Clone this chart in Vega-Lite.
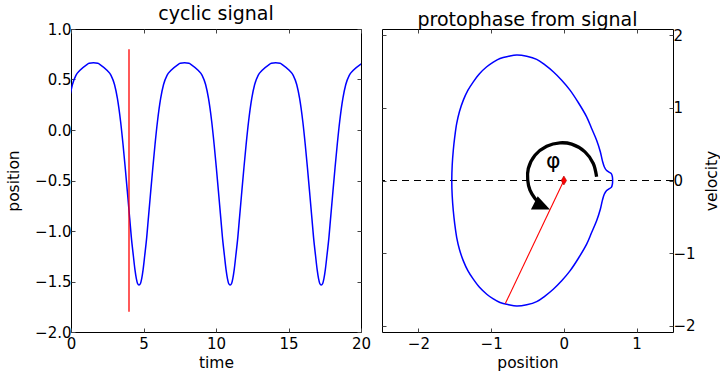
{
  "$schema": "https://vega.github.io/schema/vega-lite/v6.json",
  "background": "white",
  "padding": {"left": 5, "top": 4, "right": 5, "bottom": 5},
  "config": {
    "font": "DejaVu Sans",
    "view": {"stroke": "#000", "strokeWidth": 1},
    "axis": {
      "domain": false,
      "grid": false,
      "tickSize": -4,
      "tickColor": "#444",
      "tickWidth": 1,
      "labelFont": "DejaVu Sans",
      "labelFontSize": 15,
      "labelColor": "#000",
      "labelPadding": 4,
      "labelFlush": false,
      "labelOverlap": false,
      "labelBound": false,
      "titleFont": "DejaVu Sans",
      "titleFontSize": 15.5,
      "titleFontWeight": "normal",
      "titleColor": "#000",
      "titlePadding": 6
    },
    "axisX": {"labelPadding": 8.5, "titlePadding": 4},
    "title": {"fontSize": 19, "fontWeight": "normal", "font": "DejaVu Sans", "color": "#000", "offset": -2}
  },
  "datasets": {
    "signal": [
      {"t": -0.32, "x": 0.084}, {"t": -0.1, "x": 0.313}, {"t": 0.1, "x": 0.45}, {"t": 0.34, "x": 0.541},
      {"t": 0.6, "x": 0.588}, {"t": 1.05, "x": 0.643}, {"t": 1.25, "x": 0.66}, {"t": 1.55, "x": 0.665},
      {"t": 1.85, "x": 0.66}, {"t": 2.05, "x": 0.643}, {"t": 2.5, "x": 0.588}, {"t": 2.76, "x": 0.541},
      {"t": 3.0, "x": 0.45}, {"t": 3.2, "x": 0.313}, {"t": 3.42, "x": 0.084}, {"t": 3.59, "x": -0.146},
      {"t": 3.74, "x": -0.374}, {"t": 3.91, "x": -0.648}, {"t": 4.05, "x": -0.878}, {"t": 4.16, "x": -1.06},
      {"t": 4.3, "x": -1.245}, {"t": 4.41, "x": -1.382}, {"t": 4.51, "x": -1.473}, {"t": 4.59, "x": -1.52},
      {"t": 4.69, "x": -1.535}, {"t": 4.793, "x": -1.52}, {"t": 4.873, "x": -1.473}, {"t": 4.973, "x": -1.382},
      {"t": 5.083, "x": -1.245}, {"t": 5.223, "x": -1.06}, {"t": 5.333, "x": -0.878}, {"t": 5.473, "x": -0.648},
      {"t": 5.643, "x": -0.374}, {"t": 5.793, "x": -0.146}, {"t": 5.963, "x": 0.084}, {"t": 6.183, "x": 0.313},
      {"t": 6.383, "x": 0.45}, {"t": 6.623, "x": 0.541}, {"t": 6.883, "x": 0.588}, {"t": 7.333, "x": 0.643},
      {"t": 7.533, "x": 0.66}, {"t": 7.833, "x": 0.665}, {"t": 8.133, "x": 0.66}, {"t": 8.333, "x": 0.643},
      {"t": 8.783, "x": 0.588}, {"t": 9.043, "x": 0.541}, {"t": 9.283, "x": 0.45}, {"t": 9.483, "x": 0.313},
      {"t": 9.703, "x": 0.084}, {"t": 9.873, "x": -0.146}, {"t": 10.023, "x": -0.374}, {"t": 10.193, "x": -0.648},
      {"t": 10.333, "x": -0.878}, {"t": 10.443, "x": -1.06}, {"t": 10.583, "x": -1.245}, {"t": 10.693, "x": -1.382},
      {"t": 10.793, "x": -1.473}, {"t": 10.873, "x": -1.52}, {"t": 10.975, "x": -1.535}, {"t": 11.076, "x": -1.52},
      {"t": 11.156, "x": -1.473}, {"t": 11.256, "x": -1.382}, {"t": 11.366, "x": -1.245}, {"t": 11.506, "x": -1.06},
      {"t": 11.616, "x": -0.878}, {"t": 11.756, "x": -0.648}, {"t": 11.926, "x": -0.374}, {"t": 12.076, "x": -0.146},
      {"t": 12.246, "x": 0.084}, {"t": 12.466, "x": 0.313}, {"t": 12.666, "x": 0.45}, {"t": 12.906, "x": 0.541},
      {"t": 13.166, "x": 0.588}, {"t": 13.616, "x": 0.643}, {"t": 13.816, "x": 0.66}, {"t": 14.116, "x": 0.665},
      {"t": 14.416, "x": 0.66}, {"t": 14.616, "x": 0.643}, {"t": 15.066, "x": 0.588}, {"t": 15.326, "x": 0.541},
      {"t": 15.566, "x": 0.45}, {"t": 15.766, "x": 0.313}, {"t": 15.986, "x": 0.084}, {"t": 16.156, "x": -0.146},
      {"t": 16.306, "x": -0.374}, {"t": 16.476, "x": -0.648}, {"t": 16.616, "x": -0.878}, {"t": 16.726, "x": -1.06},
      {"t": 16.866, "x": -1.245}, {"t": 16.976, "x": -1.382}, {"t": 17.076, "x": -1.473}, {"t": 17.156, "x": -1.52},
      {"t": 17.258, "x": -1.535}, {"t": 17.36, "x": -1.52}, {"t": 17.44, "x": -1.473}, {"t": 17.54, "x": -1.382},
      {"t": 17.65, "x": -1.245}, {"t": 17.79, "x": -1.06}, {"t": 17.9, "x": -0.878}, {"t": 18.04, "x": -0.648},
      {"t": 18.21, "x": -0.374}, {"t": 18.36, "x": -0.146}, {"t": 18.53, "x": 0.084}, {"t": 18.75, "x": 0.313},
      {"t": 18.95, "x": 0.45}, {"t": 19.19, "x": 0.541}, {"t": 19.45, "x": 0.588}, {"t": 19.9, "x": 0.643},
      {"t": 20.1, "x": 0.66}, {"t": 20.4, "x": 0.665}
    ],
    "phase": [
      {"o": 1, "x": 0.67, "v": 0}, {"o": 2, "x": 0.667, "v": 0.05}, {"o": 3, "x": 0.652, "v": 0.095},
      {"o": 4, "x": 0.62, "v": 0.115}, {"o": 5, "x": 0.585, "v": 0.14}, {"o": 6, "x": 0.555, "v": 0.19},
      {"o": 7, "x": 0.53, "v": 0.27}, {"o": 8, "x": 0.5, "v": 0.4}, {"o": 9, "x": 0.45, "v": 0.555},
      {"o": 10, "x": 0.38, "v": 0.72}, {"o": 11, "x": 0.313, "v": 0.876}, {"o": 12, "x": 0.2, "v": 1.07},
      {"o": 13, "x": 0.084, "v": 1.244}, {"o": 14, "x": -0.03, "v": 1.38}, {"o": 15, "x": -0.146, "v": 1.496},
      {"o": 16, "x": -0.26, "v": 1.59}, {"o": 17, "x": -0.374, "v": 1.667}, {"o": 18, "x": -0.51, "v": 1.71},
      {"o": 19, "x": -0.648, "v": 1.727}, {"o": 20, "x": -0.76, "v": 1.71}, {"o": 21, "x": -0.878, "v": 1.68},
      {"o": 22, "x": -0.97, "v": 1.63}, {"o": 23, "x": -1.06, "v": 1.565}, {"o": 24, "x": -1.16, "v": 1.47},
      {"o": 25, "x": -1.245, "v": 1.358}, {"o": 26, "x": -1.32, "v": 1.24}, {"o": 27, "x": -1.382, "v": 1.106},
      {"o": 28, "x": -1.435, "v": 0.95}, {"o": 29, "x": -1.473, "v": 0.785}, {"o": 30, "x": -1.5, "v": 0.6},
      {"o": 31, "x": -1.52, "v": 0.417}, {"o": 32, "x": -1.535, "v": 0.21}, {"o": 33, "x": -1.541, "v": 0},
      {"o": 34, "x": -1.535, "v": -0.21}, {"o": 35, "x": -1.52, "v": -0.417}, {"o": 36, "x": -1.5, "v": -0.6},
      {"o": 37, "x": -1.473, "v": -0.785}, {"o": 38, "x": -1.435, "v": -0.95}, {"o": 39, "x": -1.382, "v": -1.106},
      {"o": 40, "x": -1.32, "v": -1.24}, {"o": 41, "x": -1.245, "v": -1.358}, {"o": 42, "x": -1.16, "v": -1.47},
      {"o": 43, "x": -1.06, "v": -1.565}, {"o": 44, "x": -0.97, "v": -1.63}, {"o": 45, "x": -0.878, "v": -1.68},
      {"o": 46, "x": -0.76, "v": -1.71}, {"o": 47, "x": -0.648, "v": -1.727}, {"o": 48, "x": -0.51, "v": -1.71},
      {"o": 49, "x": -0.374, "v": -1.667}, {"o": 50, "x": -0.26, "v": -1.59}, {"o": 51, "x": -0.146, "v": -1.496},
      {"o": 52, "x": -0.03, "v": -1.38}, {"o": 53, "x": 0.084, "v": -1.244}, {"o": 54, "x": 0.2, "v": -1.07},
      {"o": 55, "x": 0.313, "v": -0.876}, {"o": 56, "x": 0.38, "v": -0.72}, {"o": 57, "x": 0.45, "v": -0.555},
      {"o": 58, "x": 0.5, "v": -0.4}, {"o": 59, "x": 0.53, "v": -0.27}, {"o": 60, "x": 0.555, "v": -0.19},
      {"o": 61, "x": 0.585, "v": -0.14}, {"o": 62, "x": 0.62, "v": -0.115}, {"o": 63, "x": 0.652, "v": -0.095},
      {"o": 64, "x": 0.667, "v": -0.05}, {"o": 65, "x": 0.67, "v": 0}
    ],
    "arc": [
      {"o": 1, "x": 0.45, "v": 0.05}, {"o": 2, "x": 0.404, "v": 0.234}, {"o": 3, "x": 0.29, "v": 0.394},
      {"o": 4, "x": 0.107, "v": 0.5}, {"o": 5, "x": -0.054, "v": 0.518}, {"o": 6, "x": -0.236, "v": 0.472},
      {"o": 7, "x": -0.397, "v": 0.348}, {"o": 8, "x": -0.489, "v": 0.165}, {"o": 9, "x": -0.497, "v": 0.004},
      {"o": 10, "x": -0.466, "v": -0.134}, {"o": 11, "x": -0.397, "v": -0.248}, {"o": 12, "x": -0.338, "v": -0.309}
    ]
  },
  "spacing": 21,
  "bounds": "flush",
  "hconcat": [
    {
      "width": 290,
      "height": 303,
      "title": "cyclic signal",
      "layer": [
        {
          "data": {"name": "signal"},
          "mark": {"type": "line", "color": "#0000ff", "strokeWidth": 1.5, "interpolate": "monotone", "clip": true},
          "encoding": {
            "x": {"field": "t", "type": "quantitative", "scale": {"domain": [0, 20], "nice": false},
                  "axis": {"orient": "bottom", "title": "time", "values": [0, 5, 10, 15, 20]}},
            "y": {"field": "x", "type": "quantitative", "scale": {"domain": [-2, 1], "nice": false, "zero": false},
                  "axis": {"orient": "left", "title": "position", "titlePadding": 13.5, "format": ".1f", "values": [-2, -1.5, -1, -0.5, 0, 0.5, 1]}}
          }
        },
        {
          "data": {"values": [{"t": 4, "lo": -1.8, "hi": 0.8}]},
          "mark": {"type": "rule", "color": "#ff0000", "strokeWidth": 1.3},
          "encoding": {
            "x": {"field": "t", "type": "quantitative", "scale": {"domain": [0, 20], "nice": false},
                  "axis": {"orient": "top", "labels": false, "title": null, "values": [0, 5, 10, 15, 20]}},
            "y": {"field": "lo", "type": "quantitative", "scale": {"domain": [-2, 1], "nice": false, "zero": false},
                  "axis": {"orient": "right", "labels": false, "title": null, "values": [-2, -1.5, -1, -0.5, 0, 0.5, 1]}},
            "y2": {"field": "hi"}
          }
        }
      ]
    },
    {
      "width": 291,
      "height": 303,
      "title": "protophase from signal",
      "layer": [
        {
          "data": {"values": [{"v": 0}]},
          "mark": {"type": "rule", "color": "#000", "strokeWidth": 1.2, "strokeDash": [7, 5]},
          "encoding": {
            "y": {"field": "v", "type": "quantitative", "scale": {"domain": [-2.085, 2.085], "nice": false, "zero": false}, "axis": null}
          }
        },
        {
          "data": {"name": "phase"},
          "mark": {"type": "line", "color": "#0000ff", "strokeWidth": 1.5, "interpolate": "catmull-rom"},
          "encoding": {
            "order": {"field": "o", "type": "quantitative"},
            "x": {"field": "x", "type": "quantitative", "scale": {"domain": [-2.5, 1.5], "nice": false, "zero": false},
                  "axis": {"orient": "bottom", "title": "position", "values": [-2, -1, 0, 1], "format": "d"}},
            "y": {"field": "v", "type": "quantitative", "scale": {"domain": [-2.085, 2.085], "nice": false, "zero": false},
                  "axis": {"orient": "right", "title": "velocity", "values": [-2, -1, 0, 1, 2], "format": "d", "titleAngle": 270, "titleBaseline": "top", "titlePadding": 9}}
          }
        },
        {
          "data": {"values": [{"x0": 0, "v0": 0, "x1": -0.805, "v1": -1.694}]},
          "mark": {"type": "rule", "color": "#ff0000", "strokeWidth": 1.1},
          "encoding": {
            "x": {"field": "x0", "type": "quantitative", "scale": {"domain": [-2.5, 1.5], "nice": false, "zero": false},
                  "axis": {"orient": "top", "labels": false, "title": null, "values": [-2, -1, 0, 1]}},
            "y": {"field": "v0", "type": "quantitative", "scale": {"domain": [-2.085, 2.085], "nice": false, "zero": false},
                  "axis": {"orient": "left", "labels": false, "title": null, "values": [-2, -1, 0, 1, 2]}},
            "x2": {"field": "x1"},
            "y2": {"field": "v1"}
          }
        },
        {
          "data": {"name": "arc"},
          "mark": {"type": "line", "color": "#000", "strokeWidth": 3.3, "interpolate": "catmull-rom", "strokeCap": "butt"},
          "encoding": {
            "order": {"field": "o", "type": "quantitative"},
            "x": {"field": "x", "type": "quantitative", "axis": null},
            "y": {"field": "v", "type": "quantitative", "axis": null}
          }
        },
        {
          "data": {"values": [{"x": -0.334, "v": -0.339}]},
          "mark": {"type": "point", "shape": "M1,0.42L-0.83,0.42L-0.18,-0.86Z", "filled": true, "color": "#000", "size": 433, "opacity": 1, "strokeWidth": 0},
          "encoding": {
            "x": {"field": "x", "type": "quantitative", "axis": null},
            "y": {"field": "v", "type": "quantitative", "axis": null}
          }
        },
        {
          "data": {"values": [{"x": 0, "v": 0}]},
          "mark": {"type": "point", "shape": "M0,-1L0.6,0L0,1L-0.6,0Z", "filled": true, "fill": "#ff0000", "stroke": "#aa0000", "strokeWidth": 0.6, "size": 80, "opacity": 1},
          "encoding": {
            "x": {"field": "x", "type": "quantitative", "axis": null},
            "y": {"field": "v", "type": "quantitative", "axis": null}
          }
        },
        {
          "data": {"values": [{"x": -0.146, "v": 0.27, "label": "φ"}]},
          "mark": {"type": "text", "fontSize": 22, "align": "center", "baseline": "middle", "color": "#000"},
          "encoding": {
            "x": {"field": "x", "type": "quantitative", "axis": null},
            "y": {"field": "v", "type": "quantitative", "axis": null},
            "text": {"field": "label"}
          }
        }
      ]
    }
  ]
}
